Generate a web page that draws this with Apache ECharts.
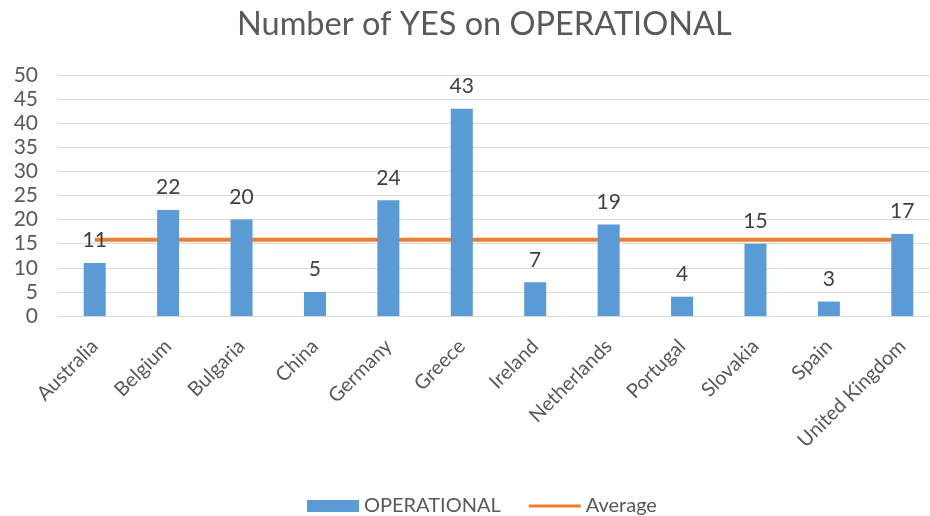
<!DOCTYPE html>
<html>
<head>
<meta charset="utf-8">
<script src="https://cdn.jsdelivr.net/npm/echarts@6/dist/echarts.min.js"></script>
<style>
html,body{margin:0;padding:0;background:#fff;}
#chart{width:930px;height:516px;}
</style>
</head>
<body>
<div id="chart"></div>
<script>
const categories = ['Australia','Belgium','Bulgaria','China','Germany','Greece','Ireland','Netherlands','Portugal','Slovakia','Spain','United Kingdom'];
const operationalValues = [11, 22, 20, 5, 24, 43, 7, 19, 4, 15, 3, 17];
const averageValues = [15.83, 15.83, 15.83, 15.83, 15.83, 15.83, 15.83, 15.83, 15.83, 15.83, 15.83, 15.83];
const yTicks = { min: 0, max: 50, interval: 5 };

const FONT = 'Lato, "Open Sans", sans-serif';
const chart = echarts.init(document.getElementById('chart'), null, {renderer: 'canvas'});
chart.setOption({
  animation: false,
  backgroundColor: '#ffffff',
  title: {
    text: 'Number of YES on OPERATIONAL',
    left: 232,
    top: 3,
    textStyle: { fontFamily: FONT, fontSize: 32.5, fontWeight: 'normal', color: '#595959' }
  },
  legend: {
    left: 302,
    top: 491,
    itemWidth: 52,
    itemHeight: 12,
    itemGap: 28,
    textStyle: { fontFamily: FONT, fontSize: 20, color: '#595959' },
    data: [
      { name: 'OPERATIONAL', icon: 'rect' },
      { name: 'Average', icon: 'path://M0,0 M0,12 M0,4.5 L52,4.5 L52,7.5 L0,7.5 Z', itemStyle: { color: '#ED7D31' } }
    ]
  },
  grid: {
    left: 58, top: 75, width: 881, height: 241,
    containLabel: false,
    outerBoundsMode: 'none'
  },
  xAxis: {
    type: 'category',
    data: categories,
    axisLine: { show: true, lineStyle: { color: '#d9d9d9', width: 1 } },
    axisTick: { show: false },
    axisLabel: {
      rotate: 45,
      interval: 0,
      margin: 27,
      fontFamily: FONT,
      fontSize: 20,
      color: '#595959'
    }
  },
  yAxis: {
    type: 'value',
    min: yTicks.min,
    max: yTicks.max,
    interval: yTicks.interval,
    axisLine: { show: false },
    axisTick: { show: false },
    splitLine: { lineStyle: { color: '#d9d9d9', width: 1 } },
    axisLabel: { margin: 20, fontFamily: FONT, fontSize: 21, color: '#595959' }
  },
  series: [
    {
      name: 'OPERATIONAL',
      type: 'bar',
      data: operationalValues,
      barWidth: 22,
      itemStyle: { color: '#5B9BD5' },
      label: {
        show: true,
        position: 'top',
        distance: 12,
        fontFamily: FONT,
        fontSize: 21,
        color: '#404040'
      }
    },
    {
      name: 'Average',
      type: 'line',
      data: averageValues,
      symbol: 'none',
      showSymbol: false,
      lineStyle: { color: '#ED7D31', width: 4 },
      itemStyle: { color: '#ED7D31' },
      z: 1
    }
  ]
});
</script>
</body>
</html>
